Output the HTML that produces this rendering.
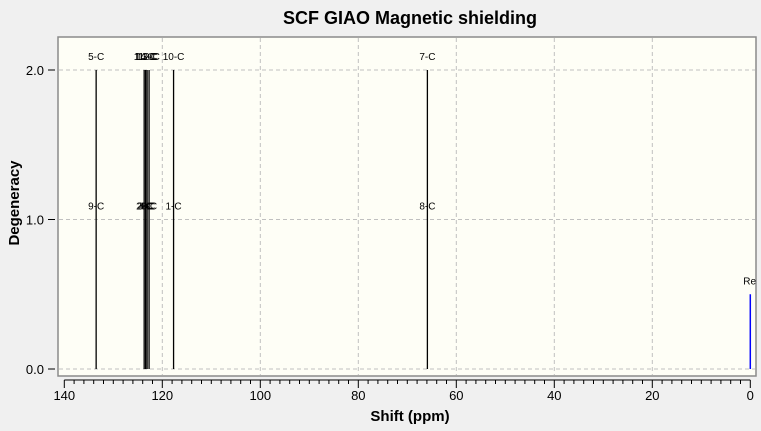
<!DOCTYPE html>
<html><head><meta charset="utf-8"><style>
body{margin:0;background:#f0f0f0;font-family:"Liberation Sans",sans-serif;}
svg{display:block}
</style></head><body>
<svg width="761" height="431" id="chart">
<rect x="0" y="0" width="761" height="431" fill="#f0f0f0"/>
<text x="410" y="24" text-anchor="middle" font-size="18" font-weight="bold">SCF GIAO Magnetic shielding</text>
<rect x="58" y="37" width="698" height="339" fill="#fefef6" stroke="#8a8a8a" stroke-width="1.5"/>
<g id="grid"></g><g id="axes"></g><g id="marks"></g>
<text x="410" y="421" text-anchor="middle" font-size="15" font-weight="bold">Shift (ppm)</text>
<text transform="translate(19,203) rotate(-90)" text-anchor="middle" font-size="15" font-weight="bold">Degeneracy</text>
</svg>
<script>
const shifts=[133.5,123.7,123.4,123.1,122.7,117.7,65.9];
const degens=[2,2,2,2,2,2,2];
const topLabels=["5-C","11-C","14-C","13-C","12-C","10-C","7-C"];
const botLabels=["9-C","2-C","3-C","4-C","6-C","1-C","8-C"];
const refShift=[0];const refDeg=[0.5];const refLabel=["Re"];
const xTicks=[140,120,100,80,60,40,20,0];
const yTicks=[0,1,2];
const NS="http://www.w3.org/2000/svg";
const X=v=>64.3+(140-v)*4.9;
const Y=v=>369-v*149.5;
function mk(t,a,p){const e=document.createElementNS(NS,t);for(const k in a)e.setAttribute(k,a[k]);document.getElementById(p).appendChild(e);return e;}
xTicks.forEach(t=>{
 if(t<140&&t>0){const g=mk('line',{x1:X(t),x2:X(t),y1:38,y2:375,stroke:'#c0c0c0','stroke-dasharray':'4,3'},'grid');}
 const l=mk('text',{x:X(t),y:400,'text-anchor':'middle','font-size':13},'axes');l.textContent=t;
 
});
mk('line',{x1:X(140),x2:X(0),y1:380,y2:380,stroke:'#000'},'axes');
for(let v=140;v>=0;v-=2){mk('line',{x1:X(v),x2:X(v),y1:380,y2:v%20==0?388:384,stroke:'#000'},'axes');}
yTicks.forEach(t=>{
 const g=mk('line',{x1:59,x2:755,y1:Y(t),y2:Y(t),stroke:'#c0c0c0','stroke-dasharray':'4,3'},'grid');
 
 mk('line',{x1:48,x2:55,y1:Y(t),y2:Y(t),stroke:'#000'},'axes');
 const l=mk('text',{x:44,y:Y(t)+5,'text-anchor':'end','font-size':13},'axes');l.textContent=t.toFixed(1);
 
});
shifts.forEach((s,i)=>{
 const l=mk('line',{x1:X(s),x2:X(s),y1:Y(0),y2:Y(degens[i]),stroke:'#000','stroke-width':1.3},'marks');
 
 const a=mk('text',{x:X(s),y:Y(degens[i])-10,'text-anchor':'middle','font-size':10},'marks');a.textContent=topLabels[i];
 
 const b=mk('text',{x:X(s),y:Y(1)-10,'text-anchor':'middle','font-size':10},'marks');b.textContent=botLabels[i];
 
});
refShift.forEach((s,i)=>{
 const l=mk('line',{x1:X(s),x2:X(s),y1:Y(0),y2:Y(refDeg[i]),stroke:'#0000ff','stroke-width':1.5},'marks');
 
 const a=mk('text',{x:X(s)-7,y:Y(refDeg[i])-10,'font-size':10},'marks');a.textContent=refLabel[i];
 
});
</script>
</body></html>
